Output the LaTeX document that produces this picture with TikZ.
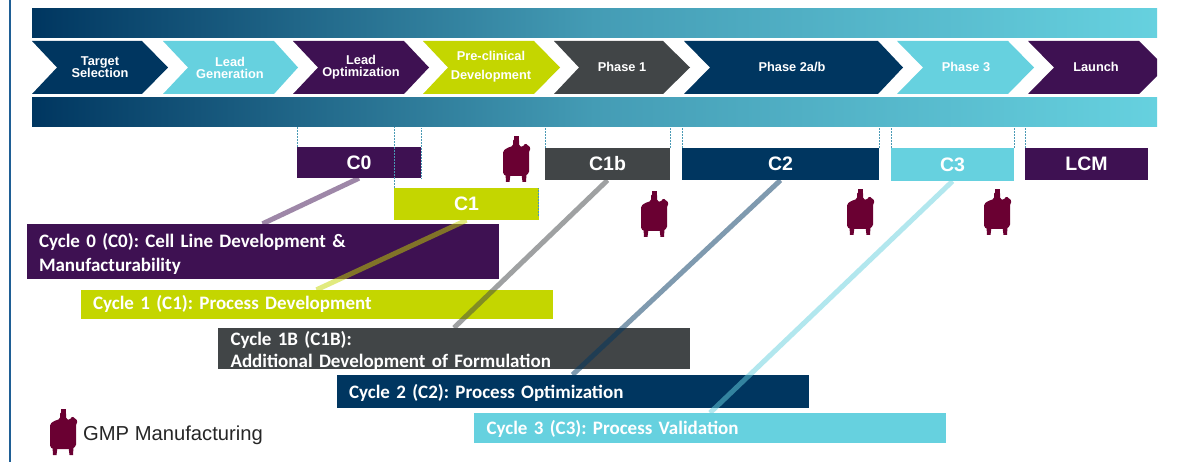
\documentclass[tikz,border=0pt]{standalone}
\usepackage{fontspec}
\setmainfont{Liberation Sans}
\newfontfamily\cyclefont{Carlito}[BoldFont={Carlito Bold}]
\usetikzlibrary{calc}
\definecolor{navy}{HTML}{003660}
\definecolor{teal}{HTML}{66D1DF}
\definecolor{plum}{HTML}{3E1152}
\definecolor{lime}{HTML}{C4D600}
\definecolor{slate}{HTML}{414547}
\definecolor{maroon}{HTML}{6A0032}
\definecolor{dotc}{HTML}{4A9AB5}
\definecolor{edge}{HTML}{1F5F95}
\definecolor{gradmid}{HTML}{449CB5}
\newcommand{\cycfont}[1]{\cyclefont\bfseries\fontsize{19}{#1}\selectfont\frenchspacing\spaceskip=4pt\relax}
\newcommand{\dn}[2][-2pt]{\raisebox{#1}[\height][\depth]{#2}}
\tikzset{
  band/.style={inner sep=0pt,minimum width=1125,minimum height=29,left color=navy,right color=teal,middle color=gradmid},
  chevtext/.style={text=white,font=\bfseries\fontsize{12.8}{13}\selectfont,align=center,inner sep=0pt},
  cbox/.style={inner sep=0pt,text=white,font=\bfseries\fontsize{19.5}{22}\selectfont},
  cycbox/.style={inner xsep=12.5pt,inner ysep=0pt,text=white,align=left,text width=447,font=\cycfont{24}},
  link/.style={line width=5pt,opacity=.5},
  guide/.style={dotc,line width=.5pt,densely dotted},
  reactor/.pic={
    \fill[maroon,rounded corners=1.5pt] (-13,38) -- (-13,15) -- (-9,12) -- (-3,10) -- (-3,3) -- (3,3) -- (3,10) -- (7,11) -- (9,7) -- (15,12) -- (13,15) -- (13,37) -- (9,40) -- (-10,40) -- cycle;
    \fill[maroon] (-2.5,0) rectangle (2.5,5);
    \fill[maroon] (-10.5,38) -- (-5.5,38) -- (-6.5,46) -- (-10,46) -- cycle;
    \fill[maroon] (5.5,38) -- (10.5,38) -- (10,46) -- (6.5,46) -- cycle;
  }
}
\newcommand{\chev}[9]{%
  \fill[#6] (#1,41) -- (#4,41) -- (#5,67.5) -- (#4,94) -- (#1,94) -- (#2,67.5) -- cycle;
  \node[chevtext] (#7) at (#3,#8) {#9};}
\begin{document}
\begin{tikzpicture}[x=1pt,y=-1pt]
\useasboundingbox (0,0) rectangle (1178,462);
\fill[white] (0,0) rectangle (1178,462);
\coordinate (edgetop) at (10,0);
\coordinate (edgebot) at (10,462);
\draw[edge,line width=1.8pt] (edgetop) -- (edgebot);
\node[band] (topband) at (594.5,23.5) {};
\node[band] (lowband) at (594.5,112.5) {};

\chev{32}{57}{100}{142}{168}{navy}{s0}{67.5}{Target\\[-1pt]Selection}
\chev{163}{188}{230}{274}{298}{teal}{s1}{67.5}{Lead\\[-1pt]Generation}
\chev{293}{318}{361}{404}{429}{plum}{s2}{67.5}{Lead\\[-1pt]Optimization}
\chev{423}{448}{491}{534}{560}{lime}{s3}{67}{Pre-clinical\\[6pt]Development}
\chev{554}{579}{622}{663}{690}{slate}{s4}{66.5}{Phase 1}
\chev{684}{710}{792}{878}{903}{navy}{s5}{66.5}{Phase 2a/b}
\chev{897}{923}{966}{1008}{1034}{teal}{s6}{66.5}{Phase 3}
\fill[plum] (1028,41) -- (1139,41) -- (1157,59) -- (1157,76) -- (1139,94) -- (1028,94) -- (1054,67.5) -- cycle;
\node[chevtext] (s7) at (1096,66.5) {Launch};

\node[cbox,fill=plum,minimum width=124,minimum height=31] (c0) at (359,162.5) {C0};
\node[cbox,fill=lime,minimum width=145,minimum height=32] (c1) at (466.5,204) {C1};
\node[cbox,fill=slate,minimum width=125,minimum height=32] (c1b) at (607.5,164) {C1b};
\node[cbox,fill=navy,minimum width=197,minimum height=32] (c2) at (780.5,164) {C2};
\node[cbox,fill=teal,minimum width=123,minimum height=33] (c3) at (952.5,164.5) {\raisebox{-2pt}{C3}};
\node[cbox,fill=plum,minimum width=123,minimum height=32] (lcm) at (1086.5,164) {LCM};

\draw[guide] (c0.north west) -- (c0.north west |- lowband.south);
\draw[guide] (c0.south east) -- (c0.south east |- lowband.south);
\draw[guide] (c1.north west) -- (c1.north west |- lowband.south);
\draw[guide] ($(c1.north east)+(-1,28)$) -- ($(c1.north east)+(-1,0)$ |- lowband.south);
\draw[guide] (c1b.north west) -- (c1b.north west |- lowband.south);
\draw[guide] (c1b.north east) -- (c1b.north east |- lowband.south);
\draw[guide] (c2.north west) -- (c2.north west |- lowband.south);
\draw[guide] (c2.north east) -- (c2.north east |- lowband.south);
\draw[guide] (c3.north west) -- (c3.north west |- lowband.south);
\draw[guide] (c3.north east) -- (c3.north east |- lowband.south);
\draw[guide] (lcm.north west) -- (lcm.north west |- lowband.south);

\node[cycbox,fill=plum,minimum height=55] (y0) at (262.5,251.5) {\dn{Cycle 0 (C0): Cell Line Development \&}\\\dn{Manufacturability}};
\node[cycbox,fill=lime,minimum height=29] (y1) at (316.5,304.5) {\dn[1pt]{Cycle 1 (C1): Process Development}};
\node[cycbox,fill=slate,minimum height=41,font=\cycfont{22}] (y1b) at (454,348.5) {\dn{Cycle 1B (C1B):}\\\dn{Additional Development of Formulation}};
\node[cycbox,fill=navy,minimum height=33] (y2) at (572.5,391.5) {\dn[-1pt]{Cycle 2 (C2): Process Optimization}};
\node[cycbox,fill=teal,minimum height=30] (y3) at (710,428) {\dn[-1pt]{Cycle 3 (C3): Process Validation}};

\draw[link,plum] (c0.south) -- (y0.north);
\draw[link,lime] (c1.south) -- (y1.north);
\draw[link,slate] (c1b.south) -- (y1b.north);
\draw[link,navy] (c2.south) -- (y2.north);
\draw[link,teal] (c3.south) -- (y3.north);

\pic at (516,136) {reactor};
\pic at (654,191) {reactor};
\pic at (860,189) {reactor};
\pic at (997,189) {reactor};
\pic at (63,409) {reactor};
\node[anchor=west,inner sep=0pt,text=black!85,font=\fontsize{20.2}{24}\selectfont] (legend) at (83,435.5) {GMP Manufacturing};
\end{tikzpicture}
\end{document}
